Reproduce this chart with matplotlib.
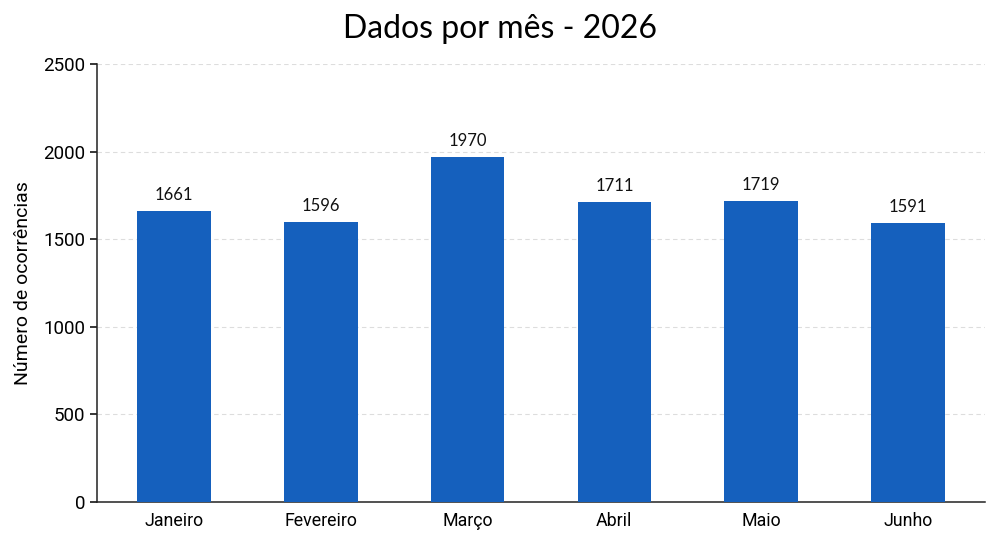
import matplotlib
matplotlib.use("Agg")
import matplotlib.pyplot as plt

months = ["Janeiro", "Fevereiro", "Março", "Abril", "Maio", "Junho"]
values = [1661, 1596, 1970, 1711, 1719, 1591]
yticks = [0, 500, 1000, 1500, 2000, 2500]

plt.rcParams['font.family'] = ['Lato', 'DejaVu Sans']

fig = plt.figure(figsize=(10, 5.48), dpi=100)
ax = fig.add_axes([0.097, 0.084, 0.888, 0.799])

x = list(range(len(months)))
bars = ax.bar(x, values, width=0.5, color='#1560bd', zorder=3)
for xi, v in zip(x, values):
    ax.annotate(str(v), (xi, v), xytext=(0, 6), textcoords='offset points',
                ha='center', va='bottom', fontsize=12, color='#111111')

ax.set_ylim(0, 2500)
ax.set_yticks(yticks)
ax.set_xticks(x)
ax.set_xticklabels(months, fontfamily=['Roboto', 'DejaVu Sans'])
for lab in ax.get_yticklabels():
    lab.set_fontfamily(['Roboto', 'DejaVu Sans'])
ax.tick_params(axis='x', length=0, labelsize=12.8, pad=7)
ax.tick_params(axis='y', length=5, labelsize=13.5, width=1.1)
ax.grid(axis='y', linestyle=(0, (4, 3)), color='#dddddd', linewidth=0.8, zorder=0)
ax.spines['top'].set_visible(False)
ax.spines['right'].set_visible(False)
for s in ('left', 'bottom'):
    ax.spines[s].set_color('#222222')
    ax.spines[s].set_linewidth(1.1)
ax.set_ylabel("Número de ocorrências", fontsize=14, fontfamily=['Roboto', 'DejaVu Sans'], labelpad=8)
fig.suptitle("Dados por mês - 2026", fontsize=23, y=0.975, va='top')

fig.savefig("out.png", dpi=100)
